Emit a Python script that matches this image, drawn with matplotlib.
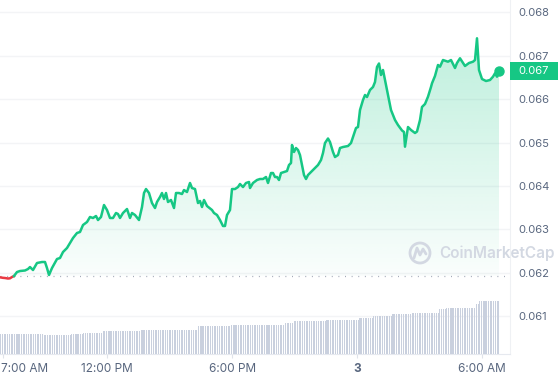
import numpy as np
import matplotlib
matplotlib.use("Agg")
import matplotlib.pyplot as plt
from matplotlib.patches import Polygon, Rectangle, Circle
from matplotlib.path import Path
from matplotlib.patches import PathPatch
import matplotlib.transforms as mtransforms

plt.rcParams['font.family'] = ['Inter', 'DejaVu Sans']

# ---- data ----
# time in hours (7 = 7:00 AM day 2, 24 = midnight of day 3)
times = [6.856, 7.000, 7.096, 7.240, 7.336, 7.432, 7.528, 7.672, 7.816, 8.056, 8.200, 8.296, 8.440, 8.632,
         8.872, 9.016, 9.112, 9.208, 9.352, 9.592, 9.736, 9.880, 10.072, 10.216, 10.360, 10.552, 10.696, 10.840,
         11.032, 11.176, 11.320, 11.464, 11.560, 11.704, 11.848, 11.992, 12.136, 12.280, 12.424, 12.520, 12.616,
         12.760, 12.952, 13.096, 13.192, 13.336, 13.528, 13.672, 13.768, 13.864, 14.008, 14.152, 14.296, 14.392,
         14.536, 14.632, 14.728, 14.824, 14.920, 15.064, 15.208, 15.304, 15.448, 15.592, 15.688, 15.832, 15.976,
         16.072, 16.216, 16.360, 16.456, 16.552, 16.648, 16.792, 17.032, 17.128, 17.272, 17.416, 17.560, 17.656,
         17.752, 17.896, 17.992, 18.136, 18.280, 18.376, 18.520, 18.664, 18.808, 18.856, 19.000, 19.192, 19.336,
         19.480, 19.624, 19.720, 19.864, 19.960, 20.056, 20.152, 20.248, 20.344, 20.488, 20.632, 20.728, 20.824,
         20.872, 20.968, 21.064, 21.160, 21.256, 21.352, 21.448, 21.544, 21.640, 21.784, 21.976, 22.120, 22.264,
         22.360, 22.456, 22.600, 22.696, 22.840, 22.936, 23.080, 23.176, 23.320, 23.560, 23.704, 23.800, 23.944,
         24.040, 24.136, 24.280, 24.376, 24.472, 24.616, 24.760, 24.856, 24.952, 25.048, 25.144, 25.240, 25.336,
         25.480, 25.624, 25.816, 25.960, 26.152, 26.248, 26.296, 26.440, 26.584, 26.776, 26.872, 27.016, 27.112,
         27.256, 27.400, 27.544, 27.592, 27.736, 27.880, 27.976, 28.120, 28.360, 28.504, 28.696, 28.792, 28.936,
         29.176, 29.368, 29.560, 29.656, 29.752, 29.848, 29.992, 30.184, 30.376, 30.520, 30.616, 30.712, 30.808]

prices = [0.061893, 0.061881, 0.061877, 0.061865, 0.061870, 0.061900, 0.061923, 0.062015, 0.062038, 0.062050,
          0.062084, 0.062130, 0.062061, 0.062223, 0.062246, 0.062246, 0.062107, 0.061946, 0.062107, 0.062315,
          0.062338, 0.062476, 0.062569, 0.062684, 0.062799, 0.062915, 0.062938, 0.063099, 0.063168, 0.063284,
          0.063261, 0.063307, 0.063214, 0.063284, 0.063560, 0.063445, 0.063261, 0.063261, 0.063376, 0.063353,
          0.063261, 0.063376, 0.063468, 0.063261, 0.063376, 0.063330, 0.063214, 0.063514, 0.063837, 0.063929,
          0.063837, 0.063606, 0.063491, 0.063630, 0.063745, 0.063837, 0.063699, 0.063837, 0.063630, 0.063676,
          0.063491, 0.063837, 0.063837, 0.063814, 0.063906, 0.063860, 0.064068, 0.063952, 0.063929, 0.063606,
          0.063653, 0.063514, 0.063676, 0.063537, 0.063445, 0.063376, 0.063330, 0.063214, 0.063076, 0.063076,
          0.063330, 0.063445, 0.063929, 0.063929, 0.063975, 0.064045, 0.063975, 0.064068, 0.064091, 0.063952,
          0.064068, 0.064137, 0.064160, 0.064160, 0.064206, 0.064068, 0.064298, 0.064298, 0.064206, 0.064206,
          0.064137, 0.064298, 0.064321, 0.064344, 0.064483, 0.064529, 0.064944, 0.064783, 0.064875, 0.064829,
          0.064713, 0.064483, 0.064252, 0.064160, 0.064252, 0.064321, 0.064414, 0.064483, 0.064598, 0.064760,
          0.064990, 0.065094, 0.065013, 0.064783, 0.064667, 0.064713, 0.064875, 0.064898, 0.064921, 0.064990,
          0.065129, 0.065336, 0.065359, 0.065751, 0.065982, 0.066097, 0.066051, 0.066213, 0.066282, 0.066397,
          0.066743, 0.066824, 0.066559, 0.066674, 0.066443, 0.066097, 0.065751, 0.065521, 0.065405, 0.065279,
          0.065244, 0.064905, 0.065359, 0.065290, 0.065221, 0.065255, 0.065521, 0.065821, 0.065890, 0.066058,
          0.066282, 0.066367, 0.066536, 0.066789, 0.066750, 0.066904, 0.066865, 0.066904, 0.066720, 0.066835,
          0.066944, 0.066766, 0.066835, 0.066865, 0.066904, 0.067405, 0.066674, 0.066466, 0.066420, 0.066443,
          0.066519, 0.066598, 0.066519, 0.066651]

open_price = 0.061923

# 24h volume (5-minute bars), stored as level / number of consecutive bars
vol_levels = [100, 95, 100, 105, 112, 120, 137, 145, 153, 162, 167, 178, 188, 197, 205, 222, 230, 250, 262]
vol_counts = [25, 16, 7, 11, 22, 33, 19, 31, 5, 19, 19, 8, 11, 11, 16, 4, 17, 2, 12]

y_ticks = [0.061, 0.062, 0.063, 0.064, 0.065, 0.066, 0.067, 0.068]
x_ticks = [7, 12, 18, 24, 30]
x_labels = ["7:00 AM", "12:00 PM", "6:00 PM", "3", "6:00 AM"]

GREEN = "#16c784"
RED = "#ea3943"
GRAY_TXT = "#58667e"

t = np.array(times)
p = np.array(prices)
assert len(t) == len(p)

W, H = 558, 380
fig = plt.figure(figsize=(W / 100, H / 100), dpi=100)
fig.patch.set_facecolor("white")

pos = [0.0, (H - 353.5) / H, 510 / W, 353.5 / H]
ax = fig.add_axes(pos, zorder=1)
x0, x1 = 6.856, 6.856 + 510 * 0.048
ax.set_xlim(x0, x1)
ax.set_ylim(0.060136, 0.068288)

for s in ["top", "left"]:
    ax.spines[s].set_visible(False)
ax.spines["right"].set_color("#eff1f4")
ax.spines["bottom"].set_color("#e6e9ef")

ax.yaxis.tick_right()
ax.set_yticks(y_ticks)
ax.set_yticklabels([f"{v:.3f}" for v in y_ticks])
ax.tick_params(axis="y", length=0, pad=6, labelsize=8, labelcolor=GRAY_TXT)
ax.grid(axis="y", color="#f3f4f6", lw=1.0)
ax.set_axisbelow(True)

ax.set_xticks(x_ticks)
ax.set_xticklabels(x_labels)
ax.tick_params(axis="x", length=3, color="#e0e3ea", pad=4, labelsize=8.5, labelcolor=GRAY_TXT)
labs = ax.get_xticklabels()
labs[0].set_horizontalalignment("left")
labs[0].set_transform(labs[0].get_transform() + mtransforms.ScaledTranslation(-2 / 100, 0, fig.dpi_scale_trans))
labs[3].set_fontweight("bold")

# split red / green at first point reaching open
k = int(np.argmax(p >= open_price))
ax.plot(t[:k + 1], p[:k + 1], color=RED, lw=1.8, zorder=4, solid_joinstyle="round")
ax.plot(t[k:], p[k:], color=GREEN, lw=1.8, zorder=4, solid_joinstyle="round")

# gradient fill between line and open price
verts = [(t[k], open_price)] + list(zip(t[k:], p[k:])) + [(t[-1], open_price)]
poly = Polygon(verts, closed=True, facecolor="none", edgecolor="none")
ax.add_patch(poly)
n = 256
grad = np.zeros((n, 1, 4))
rgb = matplotlib.colors.to_rgb(GREEN)
grad[:, 0, 0], grad[:, 0, 1], grad[:, 0, 2] = rgb
grad[:, 0, 3] = np.linspace(0.02, 0.28, n)
im = ax.imshow(grad, extent=[t[0], t[-1], open_price, p.max()], origin="lower",
               aspect="auto", zorder=2, interpolation="bilinear")
im.set_clip_path(poly)
ax.set_xlim(x0, x1)
ax.set_ylim(0.060136, 0.068288)

# dotted open line
ax.plot([x0, x0 + 506 * 0.048], [open_price, open_price], color="#a3a9b8", lw=0.9,
        linestyle=(0, (0.8, 4.5)), zorder=3)

# end dot
ax.plot([t[-1]], [p[-1]], "o", color=GREEN, ms=6.5, zorder=5)

# volume bars
axv = fig.add_axes(pos, zorder=2)
axv.patch.set_alpha(0)
vol = np.repeat(vol_levels, vol_counts)
bt = x0 + 0.03 + np.arange(len(vol)) / 12.0
axv.bar(bt, vol, width=0.05, color="#c9d0de", align="center")
axv.set_xlim(x0, x1)
axv.set_ylim(0, 353.5 * 5)
axv.axis("off")

# price tag
fig.canvas.draw()
ydisp = ax.transData.transform((t[-1], p[-1]))[1]
tag_h = 18
fig.patches.append(Rectangle((510 / W, (ydisp - tag_h / 2) / H), 48 / W, tag_h / H,
                             transform=fig.transFigure, facecolor=GREEN, edgecolor="none", zorder=5))
fig.text(518 / W, ydisp / H, f"{p[-1]:.3f}", color="white", fontsize=8, va="center", ha="left", zorder=6)

# watermark
wm = "#d3d8e2"
cx, cy = 420, H - 253
fig.patches.append(Circle((cx, cy), 10, transform=None, facecolor="none", edgecolor=wm, lw=2.0, zorder=6))
wave = Path([(cx - 6, cy - 5), (cx - 3, cy + 5), (cx, cy - 2), (cx + 3, cy + 4), (cx + 6, cy - 1)],
            [Path.MOVETO, Path.LINETO, Path.LINETO, Path.LINETO, Path.LINETO])
fig.patches.append(PathPatch(wave, transform=None, facecolor="none", edgecolor=wm, lw=2.0, zorder=6,
                             joinstyle="round", capstyle="round"))
fig.text(439 / W, 253.5 / H, "CoinMarketCap", color=wm, fontsize=11, fontweight="semibold",
         ha="left", va="center", transform=fig.transFigure)
# fig.text uses fraction from bottom
fig.texts[-1].set_position((439 / W, 1 - 253.5 / H))

fig.savefig("out.png", dpi=100)
